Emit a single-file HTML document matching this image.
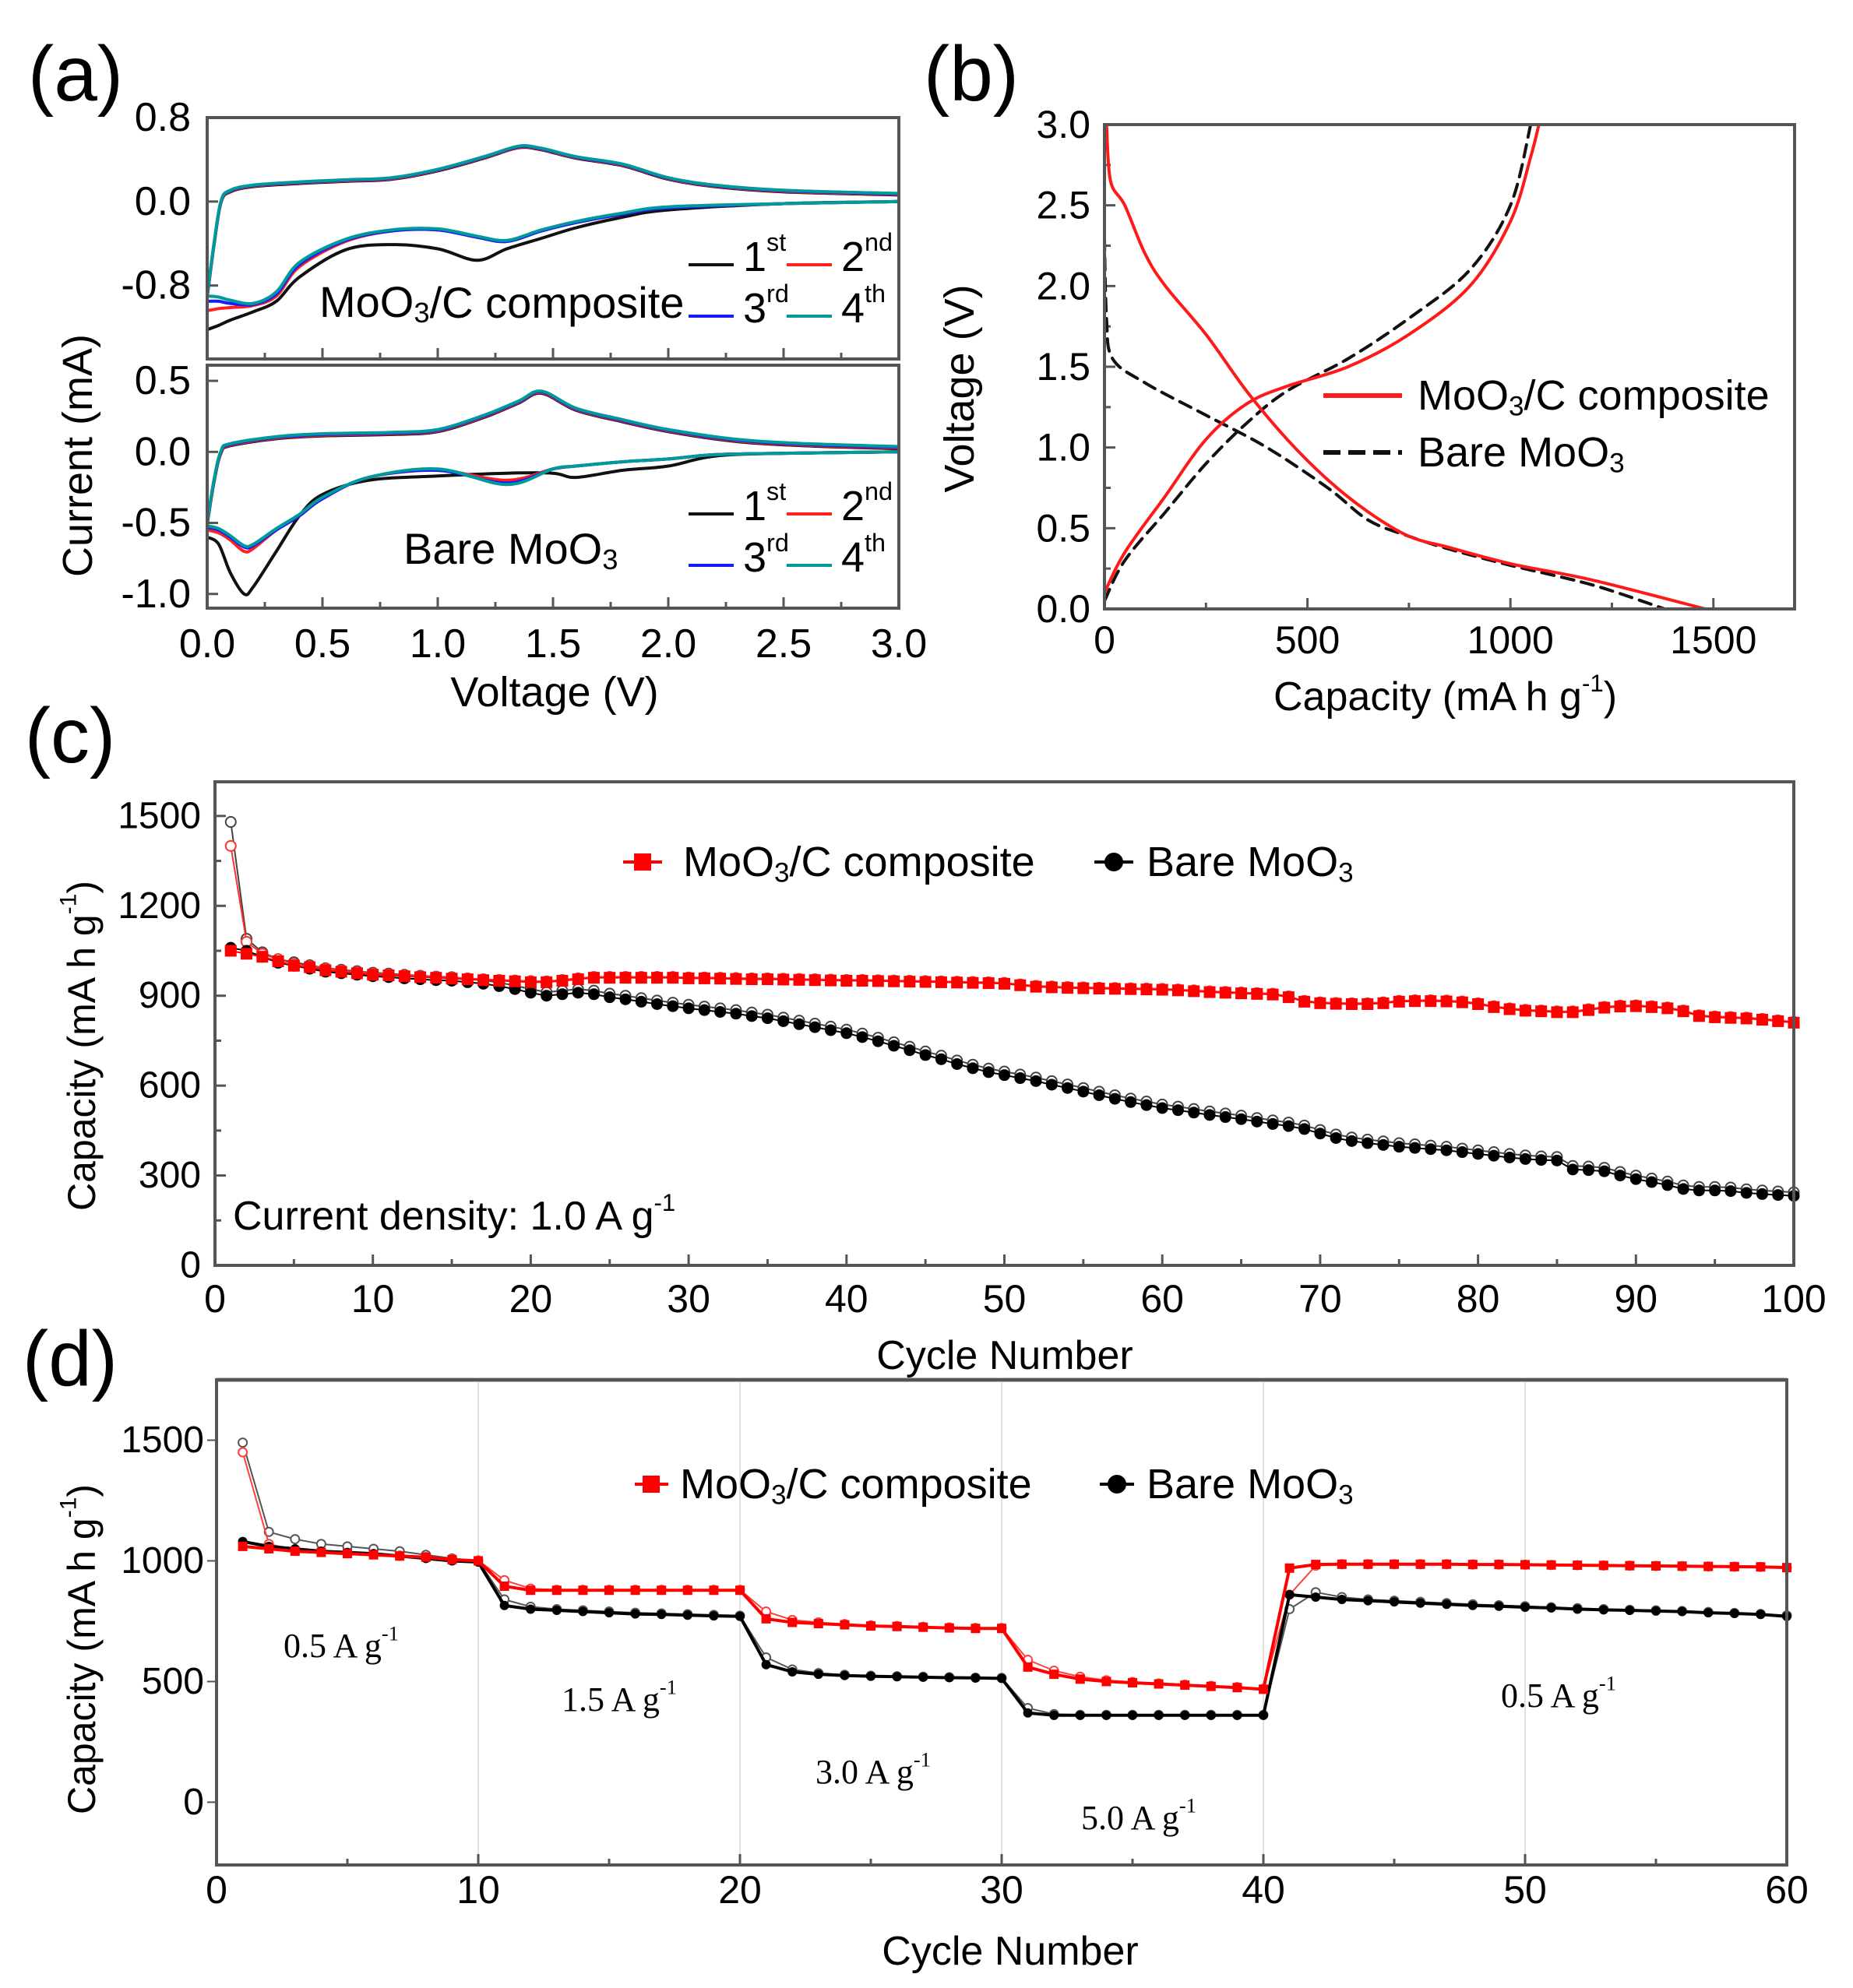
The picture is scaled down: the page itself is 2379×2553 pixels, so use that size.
<!DOCTYPE html>
<html><head><meta charset="utf-8"><style>
html,body{margin:0;padding:0;background:#fff}
svg{display:block;font-family:"Liberation Sans",Arial,sans-serif}
</style></head><body>
<svg id="fig" xmlns="http://www.w3.org/2000/svg" width="2379" height="2553" viewBox="0 0 2379 2553">
<rect width="2379" height="2553" fill="#fff"/>
<g id="root"></g>
</svg>
<script>
// ---------- Panel (a) data: CV curves ----------
const aUpAnodicV = [0,0.03,0.06,0.1,0.2,0.4,0.6,0.8,1.0,1.2,1.35,1.45,1.6,1.8,2.0,2.2,2.5,3.0];
const aUpAnodicI = [-0.9,-0.4,0.0,0.1,0.15,0.18,0.2,0.22,0.3,0.42,0.52,0.5,0.42,0.35,0.22,0.15,0.1,0.07];
const aUpCathV = [3.0,2.5,2.0,1.8,1.6,1.45,1.3,1.17,1.0,0.8,0.6,0.4,0.3,0.2,0.1,0.05,0];
const aUpCath1 = [0.0,-0.02,-0.08,-0.15,-0.25,-0.35,-0.45,-0.56,-0.45,-0.41,-0.46,-0.72,-0.95,-1.05,-1.13,-1.18,-1.22];
const aUpCath2 = [0.0,-0.02,-0.06,-0.12,-0.2,-0.28,-0.38,-0.34,-0.27,-0.28,-0.38,-0.62,-0.9,-0.99,-1.01,-1.02,-1.04];
const aUpCath3 = [0.0,-0.02,-0.06,-0.12,-0.2,-0.28,-0.38,-0.34,-0.27,-0.28,-0.37,-0.6,-0.88,-0.98,-0.97,-0.95,-0.95];
const aUpCath4 = [0.0,-0.02,-0.05,-0.11,-0.19,-0.27,-0.37,-0.33,-0.26,-0.27,-0.36,-0.58,-0.86,-0.97,-0.94,-0.91,-0.9];
const aLoAnodicV = [0,0.03,0.06,0.1,0.3,0.5,0.8,1.0,1.2,1.35,1.45,1.6,1.8,2.0,2.3,2.6,3.0];
const aLoAnodicI = [-0.5,-0.2,0.0,0.05,0.1,0.12,0.13,0.15,0.25,0.35,0.42,0.3,0.22,0.15,0.08,0.05,0.03];
const aLoCathV = [3.0,2.5,2.2,2.0,1.8,1.6,1.5,1.3,1.0,0.7,0.5,0.4,0.3,0.2,0.16,0.1,0.05,0];
const aLoCath1 = [0.0,-0.01,-0.03,-0.1,-0.13,-0.18,-0.15,-0.15,-0.17,-0.2,-0.3,-0.45,-0.7,-0.95,-1.0,-0.85,-0.65,-0.6];
const aLoCath2 = [0.0,-0.01,-0.02,-0.05,-0.07,-0.1,-0.12,-0.2,-0.13,-0.18,-0.33,-0.45,-0.55,-0.68,-0.7,-0.62,-0.57,-0.55];
const aLoCath3 = [0.0,-0.01,-0.02,-0.05,-0.07,-0.1,-0.12,-0.22,-0.13,-0.18,-0.33,-0.45,-0.55,-0.66,-0.67,-0.6,-0.55,-0.53];
const aLoCath4 = [0.0,-0.01,-0.02,-0.05,-0.07,-0.1,-0.12,-0.23,-0.12,-0.18,-0.32,-0.44,-0.54,-0.65,-0.66,-0.59,-0.54,-0.52];
const aXTicks = [0,0.5,1.0,1.5,2.0,2.5,3.0];
const aUpYTicks = [0.8,0.0,-0.8];
const aLoYTicks = [0.5,0.0,-0.5,-1.0];

// ---------- Panel (b) data: charge/discharge ----------
const bCompDisCap = [5,15,50,100,150,250,350,450,550,650,750,850,1000,1200,1480];
const bCompDisV   = [3.0,2.65,2.5,2.2,2.0,1.7,1.35,1.05,0.8,0.6,0.45,0.38,0.28,0.18,0.0];
const bBareDisCap = [0,5,20,100,250,400,550,650,750,850,1000,1200,1380];
const bBareDisV   = [2.3,1.8,1.55,1.4,1.2,1.0,0.75,0.55,0.45,0.37,0.27,0.15,0.0];
const bCompChCap = [0,50,150,250,350,450,600,750,900,1000,1050,1070];
const bCompChV   = [0.1,0.35,0.7,1.05,1.27,1.38,1.5,1.7,2.0,2.4,2.8,3.0];
const bBareChCap = [0,50,150,250,350,450,600,750,900,1000,1050];
const bBareChV   = [0.05,0.3,0.6,0.9,1.15,1.35,1.55,1.8,2.1,2.5,3.0];
const bXTicks = [0,500,1000,1500];
const bYTicks = [0.0,0.5,1.0,1.5,2.0,2.5,3.0];

// ---------- Panel (c) data: cycling ----------
const cRedFilled = [1050,1040,1030,1015,1000,995,985,980,975,970,968,965,962,960,957,955,952,950,948,945,
945,950,955,960,960,960,960,960,960,958,958,957,956,955,955,954,953,952,951,950,
950,949,948,947,946,945,944,943,942,940,935,930,928,926,925,924,923,922,921,920,
918,915,912,910,908,906,904,895,880,875,873,872,872,875,880,882,882,881,878,872,
862,855,850,848,845,845,852,860,864,865,862,858,848,832,828,826,824,820,815,810];
const cRedOpen = [1400,1080,1040,1022,1006,999,990,984,979,974,971,968,965,963,960,958,955,953,951,949,
948,953,958,963,963,963,963,963,963,961,961,960,959,958,958,957,956,955,954,953,
953,952,951,950,949,948,947,946,945,943,938,933,931,929,928,927,926,925,924,923,
921,918,915,913,911,909,907,898,883,878,876,875,875,878,883,885,885,884,881,875,
865,858,853,851,848,848,855,863,867,868,865,861,851,835,831,829,827,823,818,813];
const cBlackFilled = [1060,1050,1030,1010,1000,990,980,975,970,965,962,958,955,952,950,945,940,932,922,910,
900,905,910,905,895,888,880,872,865,858,852,846,840,832,825,815,805,795,785,775,
762,748,733,718,702,688,672,658,645,635,625,615,603,592,580,568,556,545,535,525,
518,510,502,495,488,480,472,465,455,440,425,415,408,402,396,392,388,384,378,372,
366,360,355,352,350,320,318,314,300,288,278,268,255,250,250,248,242,238,235,232];
const cBlackOpen = [1480,1090,1045,1022,1012,1002,992,987,982,977,974,970,967,964,962,957,952,944,934,922,
912,917,922,917,907,900,892,884,877,870,864,858,852,844,837,827,817,807,797,787,
774,760,745,730,714,700,684,670,657,647,637,627,615,604,592,580,568,557,547,537,
530,522,514,507,500,492,484,477,467,452,437,427,420,414,408,404,400,396,390,384,
378,372,367,364,362,332,330,326,312,300,290,280,267,262,262,260,254,250,247,244];
const cXTicks = [0,10,20,30,40,50,60,70,80,90,100];
const cYTicks = [0,300,600,900,1200,1500];

// ---------- Panel (d) data: rate capability ----------
const dRedFilled = [1060,1050,1040,1035,1030,1025,1020,1015,1005,1000,
895,878,878,878,878,878,878,878,878,878,
760,745,740,735,730,728,725,722,720,720,
560,530,510,500,495,490,485,480,475,468,
970,985,986,986,986,986,986,985,985,984,983,982,981,980,979,978,977,976,975,972];
const dRedOpen = [1450,1070,1045,1038,1032,1027,1022,1016,1007,1002,
920,885,880,880,880,880,880,880,880,880,
790,755,745,738,733,730,727,724,722,722,
590,545,520,505,498,492,487,482,477,470,
860,980,986,986,986,986,986,985,985,984,983,982,981,980,979,978,977,976,975,972];
const dBlackFilled = [1080,1060,1050,1040,1035,1030,1020,1010,1000,995,
815,800,795,790,785,780,778,775,772,770,
570,540,530,525,522,520,518,516,515,513,
370,360,360,360,360,360,360,360,360,360,
860,850,840,835,830,825,820,815,812,808,805,800,797,795,792,790,785,782,778,770];
const dBlackOpen = [1490,1120,1090,1070,1060,1050,1040,1025,1010,1000,
840,810,800,795,790,785,782,779,776,773,
600,550,535,528,524,522,520,518,516,515,
390,365,362,362,362,362,362,362,362,362,
800,870,850,840,835,830,825,820,816,812,808,804,800,797,795,792,788,784,780,774];
const dXTicks = [0,10,20,30,40,50,60];
const dYTicks = [0,500,1000,1500];

// ---------- drawing ----------
const NS = 'http://www.w3.org/2000/svg';
const root = document.getElementById('root');
function mk(tag, attrs, parent){
  const e = document.createElementNS(NS, tag);
  for (const k in attrs) e.setAttribute(k, attrs[k]);
  (parent||root).appendChild(e);
  return e;
}
function txt(x,y,s,size,opts,parent){
  opts = opts||{};
  const t = mk('text',{x:x,y:y,'font-size':size,fill:opts.fill||'#000','text-anchor':opts.anchor||'middle','dominant-baseline':'central'},parent);
  if (opts.family) t.setAttribute('font-family', opts.family);
  if (opts.rotate) t.setAttribute('transform','rotate(-90 '+x+' '+y+')');
  t.textContent = s;
  return t;
}
function richText(x,y,parts,size,opts,parent){
  opts=opts||{};
  const t = mk('text',{x:x,y:y,'font-size':size,fill:'#000','text-anchor':opts.anchor||'start','dominant-baseline':'central'},parent);
  if (opts.family) t.setAttribute('font-family', opts.family);
  if (opts.rotate) t.setAttribute('transform','rotate(-90 '+x+' '+y+')');
  parts.forEach(p=>{
    const s = document.createElementNS(NS,'tspan');
    s.textContent = p[0];
    if (p[1]==='sub'){ s.setAttribute('font-size', size*0.65); s.setAttribute('dy', size*0.25); }
    else if (p[1]==='sup'){ s.setAttribute('font-size', size*0.6); s.setAttribute('dy', -size*0.35); }
    else if (p[1]==='back'){ s.setAttribute('dy', p[2]); }
    t.appendChild(s);
  });
  return t;
}
function axis(x0,x1,y0,y1,v0,v1,u0,u1){
  return {sx:v=>x0+(v-v0)/(v1-v0)*(x1-x0), sy:u=>y1-(u-u0)/(u1-u0)*(y1-y0)};
}
function frame(x0,y0,x1,y1,name){
  const r = mk('rect',{x:x0,y:y0,width:x1-x0,height:y1-y0,fill:'none',stroke:'#555',"stroke-width":4});
  
  
}
function poly(xs,ys,A,color,w,dash,name,parent){
  const pts = xs.map((v,i)=>A.sx(v).toFixed(1)+','+A.sy(ys[i]).toFixed(1)).join(' ');
  const p = mk('polyline',{points:pts,fill:'none',stroke:color,'stroke-width':w,'stroke-linejoin':'round','stroke-linecap':'round'},parent);
  if (dash) p.setAttribute('stroke-dasharray',dash);
  
  
  return p;
}
function smooth(xs,ys,A,color,w,dash,name,parent){
  const P = xs.map((v,i)=>[A.sx(v),A.sy(ys[i])]);
  let d = 'M'+P[0][0].toFixed(1)+','+P[0][1].toFixed(1);
  for(let i=0;i<P.length-1;i++){
    const p0=P[Math.max(i-1,0)], p1=P[i], p2=P[i+1], p3=P[Math.min(i+2,P.length-1)];
    const c1=[p1[0]+(p2[0]-p0[0])/6, p1[1]+(p2[1]-p0[1])/6];
    const c2=[p2[0]-(p3[0]-p1[0])/6, p2[1]-(p3[1]-p1[1])/6];
    d+=' C'+c1[0].toFixed(1)+','+c1[1].toFixed(1)+' '+c2[0].toFixed(1)+','+c2[1].toFixed(1)+' '+p2[0].toFixed(1)+','+p2[1].toFixed(1);
  }
  const p = mk('path',{d:d,fill:'none',stroke:color,'stroke-width':w,'stroke-linejoin':'round','stroke-linecap':'round'},parent);
  if (dash) p.setAttribute('stroke-dasharray',dash);
  
  
  return p;
}

// ===== Panel (a) =====
const gA = mk('g',{});


txt(97,95,'(a)',100,{},gA);
const aL=266,aR=1154;
const AU = axis(aL,aR,151,461,0,3,-1.5,0.8);
const AL = axis(aL,aR,469,781,0,3,-1.1,0.61);
frame(aL,151,aR,461,'panel-a-upper-frame');
frame(aL,469,aR,781,'panel-a-lower-frame');
[0,0.25,0.5,0.75,1,1.25,1.5,1.75,2,2.25,2.5,2.75,3].forEach((v,i)=>{
  const L = (i%2===0)?14:8;
  mk('line',{x1:AU.sx(v),x2:AU.sx(v),y1:461,y2:461-L,stroke:'#555','stroke-width':3},gA);
  mk('line',{x1:AL.sx(v),x2:AL.sx(v),y1:781,y2:781-L,stroke:'#555','stroke-width':3},gA);
});
aXTicks.forEach(v=>{ const t=txt(AL.sx(v),827,v.toFixed(1),52,{},gA);  });
aUpYTicks.forEach(v=>{ mk('line',{x1:aL,x2:aL+14,y1:AU.sy(v),y2:AU.sy(v),stroke:'#555','stroke-width':3},gA);
  const t=txt(245,AU.sy(v),v.toFixed(1),52,{anchor:'end'},gA);  });
aLoYTicks.forEach(v=>{ mk('line',{x1:aL,x2:aL+14,y1:AL.sy(v),y2:AL.sy(v),stroke:'#555','stroke-width':3},gA);
  const t=txt(245,AL.sy(v),v.toFixed(1),52,{anchor:'end'},gA);  });
txt(712,889,'Voltage (V)',54,{},gA);
txt(100,585,'Current (mA)',54,{rotate:true},gA);
const cvColors=['#111','#ff2020','#1a1aff','#009a9a'];
const upC=[aUpCath1,aUpCath2,aUpCath3,aUpCath4], loC=[aLoCath1,aLoCath2,aLoCath3,aLoCath4];
for(let k=0;k<4;k++){
  smooth(aUpAnodicV,aUpAnodicI.map(v=>v+(k-1.5)*0.005),AU,cvColors[k],4,null,'a-upper-anodic-cycle-'+(k+1),gA);
  smooth(aUpCathV,upC[k],AU,cvColors[k],4,null,'a-upper-cathodic-cycle-'+(k+1),gA);
  smooth(aLoAnodicV,aLoAnodicI.map(v=>v+(k-1.5)*0.005),AL,cvColors[k],4,null,'a-lower-anodic-cycle-'+(k+1),gA);
  smooth(aLoCathV,loC[k],AL,cvColors[k],4,null,'a-lower-cathodic-cycle-'+(k+1),gA);
}
richText(410,387,[['MoO'],['3','sub'],['/C composite','back',-52*0.25]],56,{},gA);
richText(518,704,[['Bare MoO'],['3','sub']],56,{},gA);
function cvLegend(y1,y2,pref){
  const items=[[884,y1,'1','st',0],[1010,y1,'2','nd',1],[884,y2,'3','rd',2],[1010,y2,'4','th',3]];
  items.forEach(it=>{
    const l=mk('line',{x1:it[0],x2:it[0]+58,y1:it[1]+10,y2:it[1]+10,stroke:cvColors[it[4]],'stroke-width':4},gA);
    
    
    const t=richText(it[0]+70,it[1],[[it[2]],[it[3],'sup']],54,{},gA);
    
    
  });
}
cvLegend(330,396,'a-upper');
cvLegend(650,716,'a-lower');

// ===== Panel (b) =====
const gB = mk('g',{});


txt(1247,95,'(b)',100,{},gB);
const B = axis(1418,2304,160,782,0,1700,0,3.0);
frame(1418,160,2304,782,'panel-b-frame');
[0,250,500,750,1000,1250,1500].forEach((v,i)=>mk('line',{x1:B.sx(v),x2:B.sx(v),y1:782,y2:782-(i%2?8:14),stroke:'#555','stroke-width':3},gB));
[0,0.25,0.5,0.75,1,1.25,1.5,1.75,2,2.25,2.5,2.75,3].forEach((v,i)=>mk('line',{x1:1418,x2:1418+(i%2?8:14),y1:B.sy(v),y2:B.sy(v),stroke:'#555','stroke-width':3},gB));
bXTicks.forEach(v=>{const t=txt(B.sx(v),822,String(v),50,{},gB);  });
bYTicks.forEach(v=>{const t=txt(1400,B.sy(v),v.toFixed(1),50,{anchor:'end'},gB);  });
richText(1635,895,[['Capacity (mA h g'],['-1','sup'],[')','back',50*0.35]],52,{},gB);
txt(1232,499,'Voltage (V)',54,{rotate:true},gB);
smooth(bBareDisCap,bBareDisV,B,'#111',4,'16,10','b-bare-discharge',gB);
smooth(bBareChCap,bBareChV,B,'#111',4,'16,10','b-bare-charge',gB);
smooth(bCompDisCap,bCompDisV,B,'#ff1a1a',4,null,'b-composite-discharge',gB);
smooth(bCompChCap,bCompChV,B,'#ff1a1a',4,null,'b-composite-charge',gB);
mk('line',{x1:1699,x2:1800,y1:508,y2:508,stroke:'#ff1a1a','stroke-width':6},gB);
richText(1820,508,[['MoO'],['3','sub'],['/C composite','back',-54*0.25]],54,{},gB);
mk('line',{x1:1699,x2:1800,y1:581,y2:581,stroke:'#111','stroke-width':6,'stroke-dasharray':'22,10'},gB);
richText(1820,581,[['Bare MoO'],['3','sub']],54,{},gB);

// ===== Panel (c) =====
const gC = mk('g',{});


txt(90,945,'(c)',100,{},gC);
const C = axis(276,2303,1004,1625,0,100,0,1614);
frame(276,1004,2303,1625,'panel-c-frame');
for(let v=0;v<=100;v+=5) mk('line',{x1:C.sx(v),x2:C.sx(v),y1:1625,y2:1625-(v%10?8:14),stroke:'#555','stroke-width':3},gC);
for(let v=0;v<=1500;v+=150) mk('line',{x1:276,x2:276+(v%300?8:14),y1:C.sy(v),y2:C.sy(v),stroke:'#555','stroke-width':3},gC);
cXTicks.forEach(v=>{const t=txt(C.sx(v),1668,String(v),50,{},gC);  });
cYTicks.forEach(v=>{const t=txt(258,C.sy(v),String(v),48,{anchor:'end'},gC);  });
txt(1290,1741,'Cycle Number',52,{},gC);
richText(105,1555,[['Capacity (mA h g'],['-1','sup'],[')','back',50*0.35]],50,{rotate:true},gC);
function series(vals,A,color,shape,size,name,parent,lw){
  const xs = vals.map((v,i)=>i+1);
  poly(xs,vals,A,color,lw||2,null,name+'-line',parent);
  vals.forEach((v,i)=>{
    const x=A.sx(i+1), y=A.sy(v);
    let m;
    if (shape==='sq') m=mk('rect',{x:x-size/2,y:y-size/2,width:size,height:size,fill:color},parent);
    else if (shape==='dot') m=mk('circle',{cx:x,cy:y,r:size/2,fill:color},parent);
    else m=mk('circle',{cx:x,cy:y,r:size/2,fill:'#fff',stroke:color,'stroke-width':2},parent);
    
    
  });
}
series(cBlackOpen,C,'#444','open',13,'c-bare-charge',gC);
series(cRedOpen,C,'#ff3030','open',13,'c-composite-charge',gC);
series(cBlackFilled,C,'#000','dot',15,'c-bare-discharge',gC);
series(cRedFilled,C,'#ff0000','sq',15,'c-composite-discharge',gC);
mk('line',{x1:800,x2:850,y1:1107,y2:1107,stroke:'#f00','stroke-width':4},gC);
mk('rect',{x:814,y:1096,width:22,height:22,fill:'#f00'},gC);
richText(877,1107,[['MoO'],['3','sub'],['/C composite','back',-54*0.25]],54,{},gC);
mk('line',{x1:1405,x2:1455,y1:1107,y2:1107,stroke:'#000','stroke-width':4},gC);
mk('circle',{cx:1430,cy:1107,r:12,fill:'#000'},gC);
richText(1472,1107,[['Bare MoO'],['3','sub']],54,{},gC);
richText(299,1562,[['Current density: 1.0 A g'],['-1','sup']],52,{},gC);

// ===== Panel (d) =====
const gD = mk('g',{});


txt(90,1745,'(d)',100,{},gD);
const D = axis(278,2294,1772,2395,0,60,-260,1750);
for(let v=10;v<60;v+=10){ const g=mk('line',{x1:D.sx(v),x2:D.sx(v),y1:1772,y2:2395,stroke:'#e2e2e2','stroke-width':2},gD);  }
frame(278,1772,2294,2395,'panel-d-frame');
mk('rect',{x:278,y:1769,width:2016,height:6,fill:'#bbb'},gD);
for(let v=0;v<=60;v+=5) mk('line',{x1:D.sx(v),x2:D.sx(v),y1:2395,y2:2395-(v%10?8:14),stroke:'#555','stroke-width':3},gD);
dXTicks.forEach(v=>{const t=txt(D.sx(v),2427,String(v),50,{},gD);  });
dYTicks.forEach(v=>{ mk('line',{x1:278,x2:266,y1:D.sy(v),y2:D.sy(v),stroke:'#555','stroke-width':2},gD);
  const t=txt(262,D.sy(v),String(v),48,{anchor:'end'},gD);  });
txt(1297,2506,'Cycle Number',52,{},gD);
richText(105,2330,[['Capacity (mA h g'],['-1','sup'],[')','back',50*0.35]],50,{rotate:true},gD);
series(dBlackOpen,D,'#555','open',11,'d-bare-charge',gD,2);
series(dRedOpen,D,'#ff4040','open',11,'d-composite-charge',gD,2);
series(dBlackFilled,D,'#000','dot',12,'d-bare-discharge',gD,4);
series(dRedFilled,D,'#ff0000','sq',12,'d-composite-discharge',gD,4);
mk('line',{x1:815,x2:858,y1:1906,y2:1906,stroke:'#f00','stroke-width':4},gD);
mk('rect',{x:825,y:1895,width:22,height:22,fill:'#f00'},gD);
richText(873,1906,[['MoO'],['3','sub'],['/C composite','back',-54*0.25]],54,{},gD);
mk('line',{x1:1412,x2:1456,y1:1906,y2:1906,stroke:'#000','stroke-width':4},gD);
mk('circle',{cx:1434,cy:1906,r:12,fill:'#000'},gD);
richText(1472,1906,[['Bare MoO'],['3','sub']],54,{},gD);
const serif='"Liberation Serif","Times New Roman",serif';
[[364,2113,'0.5 A g'],[721,2182,'1.5 A g'],[1047,2275,'3.0 A g'],[1388,2334,'5.0 A g'],[1927,2177,'0.5 A g']].forEach((r,i)=>{
  const t=richText(r[0],r[1],[[r[2]],['-1','sup']],44,{family:serif},gD);
  
  
});
</script>
</body></html>
